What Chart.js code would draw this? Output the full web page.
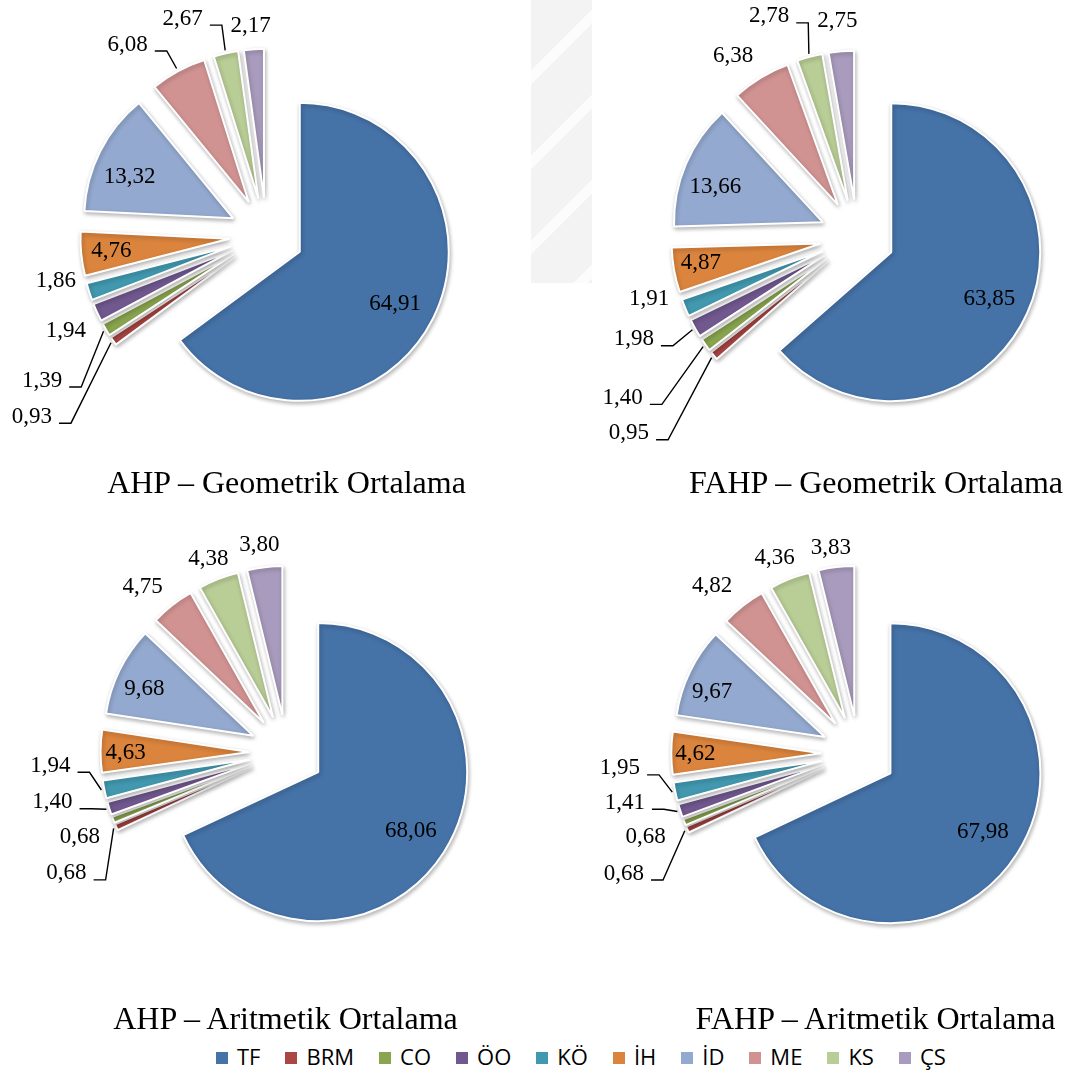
<!DOCTYPE html>
<html>
<head>
<meta charset="utf-8">
<script src="https://cdn.jsdelivr.net/npm/chart.js@4.4.0/dist/chart.umd.min.js"></script>
<style>
  html, body { margin: 0; padding: 0; background: #fff; }
  body { width: 1069px; height: 1072px; position: relative; overflow: hidden; }
  .mark { position: absolute; left: 531px; top: 0; width: 61px; height: 283px;
          background: repeating-linear-gradient(135deg, #f3f3f3 0 50px, #fcfcfc 50px 60px); }
  canvas.pie { position: absolute; }
  .title { position: absolute; font-family: "Liberation Serif", "Times New Roman", serif;
           font-size: 32px; line-height: 32px; white-space: nowrap; color: #000;
           transform: translateX(-50%); }
  #legend { position: absolute; left: 216px; top: 1044.5px; display: flex; gap: 25px;
            font-family: "Open Sans", sans-serif; font-size: 22px; line-height: 22px; color: #000; }
  #legend .item { display: flex; align-items: flex-start; white-space: nowrap; }
  #legend .box { width: 12px; height: 12px; margin-top: 7.5px; margin-right: 9px; }
</style>
</head>
<body>
<div class="mark"></div>
<div id="legend"></div>
<script>
// Criteria (legend order, clockwise from 12 o'clock)
const categories = ['TF', 'BRM', 'CO', 'ÖO', 'KÖ', 'İH', 'İD', 'ME', 'KS', 'ÇS'];

// Weights (%) per method
const ahpGeometrik  = [64.91, 0.93, 1.39, 1.94, 1.86, 4.76, 13.32, 6.08, 2.67, 2.17];
const fahpGeometrik = [63.85, 0.95, 1.40, 1.98, 1.91, 4.87, 13.66, 6.38, 2.78, 2.75];
const ahpAritmetik  = [68.06, 0.68, 0.68, 1.40, 1.94, 4.63, 9.68, 4.75, 4.38, 3.80];
const fahpAritmetik = [67.98, 0.68, 0.68, 1.41, 1.95, 4.62, 9.67, 4.82, 4.36, 3.83];

const chartTitles = [
  'AHP – Geometrik Ortalama',
  'FAHP – Geometrik Ortalama',
  'AHP – Aritmetik Ortalama',
  'FAHP – Aritmetik Ortalama'
];

const sliceColors = ['#4572A7', '#AA4643', '#89A54E', '#71588F', '#4198AF',
                     '#DB843D', '#93A9CF', '#D19392', '#B9CD96', '#A99BBD'];

// Panel layout: canvas box, pie centre inside it, title placement,
// and label placement (distance in radii, angular shift in degrees, leader line)
const panels = [
  { values: ahpGeometrik, box: [0, 0], center: [266.5, 235], radius: 149, title: [286.5, 466.2],
    dist:  [0.724, 1.736, 1.54, 1.238, 1.196, 0.795, 0.753, 1.343, 1.32, 1.17],
    shift: [1, -3.2, -2.5, -0.8, 7, 0.6, -4.1, -8.9, -10, -0.5],
    leader:[0, 1, 1, 0, 0, 0, 0, 1, 1, 0] },
  { values: fahpGeometrik, box: [535, 0], center: [322.3, 236.8], radius: 149, title: [876, 466.2],
    dist:  [0.727, 1.765, 1.654, 1.397, 1.208, 0.813, 0.762, 1.23, 1.355, 1.213],
    shift: [0.6, -0.95, 1.4, 6, 7.4, 1.95, -4.1, -3.7, -8.1, -0.4],
    leader:[0, 1, 1, 1, 0, 0, 0, 0, 1, 0] },
  { values: ahpAritmetik, box: [0, 520], center: [286.8, 232.1], radius: 149, title: [285.5, 1002.2],
    dist:  [0.731, 1.434, 1.247, 1.358, 1.342, 0.831, 0.80, 1.228, 1.161, 1.165],
    shift: [-0.8, -5.6, -0.7, 6.9, 10.2, 0, -2.2, -3.5, -0.4, -0.8],
    leader:[0, 1, 0, 1, 1, 0, 0, 0, 0, 0] },
  { values: fahpAritmetik, box: [535, 520], center: [323.75, 233.2], radius: 150, title: [875.5, 1002.2],
    dist:  [0.725, 1.505, 1.272, 1.344, 1.348, 0.84, 0.814, 1.24, 1.175, 1.144],
    shift: [-0.5, -3.25, 0.7, 7.4, 10.1, 0.5, -3.3, -3.4, -1.9, -0.9],
    leader:[0, 1, 0, 1, 1, 0, 0, 0, 0, 0] }
];

const CELL_W = 534, CELL_H = 520;
const EXPLODE = 0.25;   // every slice pulled out by a quarter of the radius
const LABEL_PX = 23;

// Draws each arc pushed outward along its bisector
function explodedSlices(ratio) {
  return {
    id: 'explodedSlices',
    beforeDatasetDraw(chart, args) {
      const ctx = chart.ctx;
      args.meta.data.forEach(arc => {
        const mid = (arc.startAngle + arc.endAngle) / 2;
        const d = arc.outerRadius * ratio;
        ctx.save();
        ctx.translate(Math.cos(mid) * d, Math.sin(mid) * d);
        ctx.shadowColor = 'rgba(0,0,0,0.28)';
        ctx.shadowBlur = 4;
        ctx.shadowOffsetX = 1;
        ctx.shadowOffsetY = 2;
        arc.draw(ctx);
        ctx.restore();
      });
      return false;
    }
  };
}

// Value labels, with elbow leader lines where requested
function sliceLabels(panel, ratio) {
  return {
    id: 'sliceLabels',
    afterDatasetsDraw(chart) {
      const ctx = chart.ctx;
      const meta = chart.getDatasetMeta(0);
      const values = chart.data.datasets[0].data;
      ctx.save();
      ctx.font = LABEL_PX + 'px "Liberation Serif", "Times New Roman", serif';
      ctx.fillStyle = '#000';
      ctx.strokeStyle = '#000';
      ctx.lineWidth = 1.4;
      ctx.textAlign = 'center';
      ctx.textBaseline = 'alphabetic';
      meta.data.forEach((arc, i) => {
        const R = arc.outerRadius;
        const mid = (arc.startAngle + arc.endAngle) / 2;
        const ex = arc.x + Math.cos(mid) * R * ratio;
        const ey = arc.y + Math.sin(mid) * R * ratio;
        const a = mid + panel.shift[i] * Math.PI / 180;
        const lx = ex + Math.cos(a) * R * panel.dist[i];
        const ly = ey + Math.sin(a) * R * panel.dist[i];
        const text = values[i].toFixed(2).replace('.', ',');
        if (panel.leader[i]) {
          const w = ctx.measureText(text).width;
          const yl = ly + 8;
          const x0 = lx + w / 2 + 7;
          ctx.beginPath();
          ctx.moveTo(x0, yl);
          ctx.lineTo(x0 + 12, yl);
          ctx.lineTo(ex + Math.cos(mid) * R * 1.02, ey + Math.sin(mid) * R * 1.02);
          ctx.stroke();
        }
        ctx.fillText(text, lx, ly + LABEL_PX * 0.331);
      });
      ctx.restore();
    }
  };
}

panels.forEach((panel, idx) => {
  const canvas = document.createElement('canvas');
  canvas.className = 'pie';
  canvas.width = CELL_W;
  canvas.height = CELL_H;
  canvas.style.left = panel.box[0] + 'px';
  canvas.style.top = panel.box[1] + 'px';
  document.body.appendChild(canvas);

  const [cx, cy] = panel.center;
  const padding = {
    left: Math.max(0, 2 * cx - CELL_W),
    right: Math.max(0, CELL_W - 2 * cx),
    top: Math.max(0, 2 * cy - CELL_H),
    bottom: Math.max(0, CELL_H - 2 * cy)
  };

  new Chart(canvas, {
    type: 'pie',
    data: {
      labels: categories,
      datasets: [{
        data: panel.values,
        backgroundColor: sliceColors,
        borderColor: '#ffffff',
        borderWidth: 2,
        radius: panel.radius
      }]
    },
    options: {
      responsive: false,
      animation: false,
      events: [],
      layout: { padding },
      plugins: {
        legend: { display: false },
        tooltip: { enabled: false },
        title: { display: false }
      }
    },
    plugins: [explodedSlices(EXPLODE), sliceLabels(panel, EXPLODE)]
  });

  const t = document.createElement('div');
  t.className = 'title';
  t.textContent = chartTitles[idx];
  t.style.left = panel.title[0] + 'px';
  t.style.top = panel.title[1] + 'px';
  document.body.appendChild(t);
});

// Shared legend
const legend = document.getElementById('legend');
categories.forEach((name, i) => {
  const item = document.createElement('div');
  item.className = 'item';
  const box = document.createElement('span');
  box.className = 'box';
  box.style.background = sliceColors[i];
  item.appendChild(box);
  item.appendChild(document.createTextNode(name));
  legend.appendChild(item);
});
</script>
</body>
</html>
